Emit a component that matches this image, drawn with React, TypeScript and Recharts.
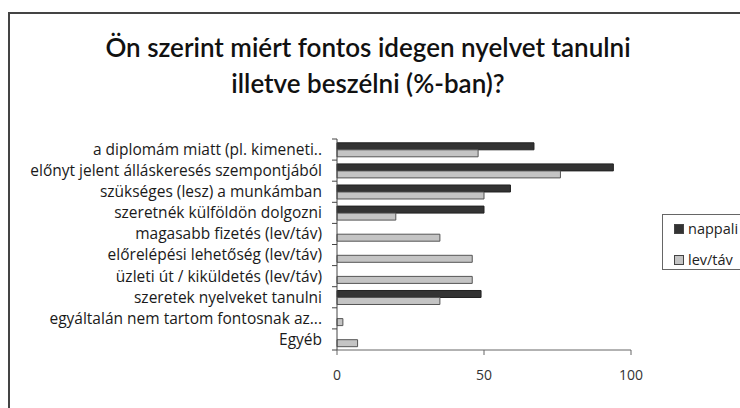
import { Bar, BarChart, XAxis, YAxis } from 'recharts';

const categories = [
  'a diplomám miatt (pl. kimeneti..',
  'előnyt jelent álláskeresés szempontjából',
  'szükséges (lesz) a munkámban',
  'szeretnék külföldön dolgozni',
  'magasabb fizetés (lev/táv)',
  'előrelépési lehetőség (lev/táv)',
  'üzleti út / kiküldetés (lev/táv)',
  'szeretek nyelveket tanulni',
  'egyáltalán nem tartom fontosnak az...',
  'Egyéb',
];
const nappali = [67, 94, 59, 50, 0, 0, 0, 49, 0, 0];
const levTav = [48, 76, 50, 20, 35, 46, 46, 35, 2, 7];
const xTicks = [0, 50, 100];
const seriesNames = ['nappali', 'lev/táv'];

const data = categories.map((label, i) => ({
  label,
  nappali: nappali[i],
  levTav: levTav[i],
}));

const titleFont = 'Lato, "Open Sans", sans-serif';
const font = '"Open Sans", Lato, sans-serif';
const colors = { nappali: '#333333', levTav: '#c4c4c4' };

// category label plus Excel-style tick marks on the band boundaries
function CategoryTick(props: any) {
  const { x, y, payload, index, visibleTicksCount } = props;
  const half = payload.offset || 0;
  const axisX = x + 15;
  return (
    <g>
      <line x1={axisX - 5} x2={axisX} y1={y - half} y2={y - half} stroke="#444" />
      {index === visibleTicksCount - 1 && (
        <line x1={axisX - 5} x2={axisX} y1={y + half} y2={y + half} stroke="#444" />
      )}
      <text
        x={x}
        y={y}
        dy="0.35em"
        textAnchor="end"
        fill="#1a1a1a"
        fontSize={15.5}
        fontFamily={font}
      >
        {payload.value}
      </text>
    </g>
  );
}

export default function App() {
  return (
    <div
      style={{
        position: 'absolute',
        left: 0,
        top: 0,
        width: 740,
        height: 408,
        overflow: 'hidden',
        background: '#fff',
        fontFamily: font,
      }}
    >
      <div
        style={{
          position: 'absolute',
          left: 8,
          top: 12,
          width: 760,
          height: 420,
          borderLeft: '2px solid #444',
          borderTop: '2px solid #444',
        }}
      />
      <div
        style={{
          position: 'absolute',
          left: 0,
          top: 29,
          width: 736,
          textAlign: 'center',
          fontSize: 26,
          lineHeight: '36px',
          color: '#111',
          fontFamily: titleFont,
          fontWeight: 600,
        }}
      >
        Ön szerint miért fontos idegen nyelvet tanulni
        <br />
        illetve beszélni (%-ban)?
      </div>
      <div style={{ position: 'absolute', left: 0, top: 0 }}>
        <BarChart
          width={740}
          height={408}
          data={data}
          layout="vertical"
          margin={{ top: 139, right: 109, bottom: 28, left: 0 }}
          barCategoryGap="18%"
          barGap={0}
        >
          <XAxis
            type="number"
            domain={[0, 100]}
            ticks={xTicks}
            height={30}
            tickSize={5}
            tickMargin={15}
            stroke="#666"
            tick={{ fill: '#333', fontSize: 14, fontFamily: font }}
          />
          <YAxis
            type="category"
            dataKey="label"
            width={337}
            tickSize={5}
            tickMargin={10}
            tickLine={false}
            stroke="#444"
            interval={0}
            tick={<CategoryTick />}
          />
          <Bar
            dataKey="nappali"
            fill={colors.nappali}
            stroke="#222"
            strokeWidth={1}
            isAnimationActive={false}
          />
          <Bar
            dataKey="levTav"
            fill={colors.levTav}
            stroke="#555"
            strokeWidth={1}
            isAnimationActive={false}
          />
        </BarChart>
      </div>
      <div
        style={{
          position: 'absolute',
          left: 662,
          top: 214,
          width: 80,
          height: 56,
          border: '1px solid #666',
          boxSizing: 'border-box',
          fontSize: 14.5,
          color: '#222',
        }}
      >
        {seriesNames.map((name, i) => (
          <div
            key={name}
            style={{
              position: 'absolute',
              left: 11,
              top: 5 + i * 31,
              display: 'flex',
              alignItems: 'center',
              lineHeight: '18px',
            }}
          >
            <span
              style={{
                display: 'inline-block',
                width: 8,
                height: 8,
                marginRight: 4,
                background: i === 0 ? colors.nappali : colors.levTav,
                border: '1px solid #444',
              }}
            />
            {name}
          </div>
        ))}
      </div>
    </div>
  );
}
